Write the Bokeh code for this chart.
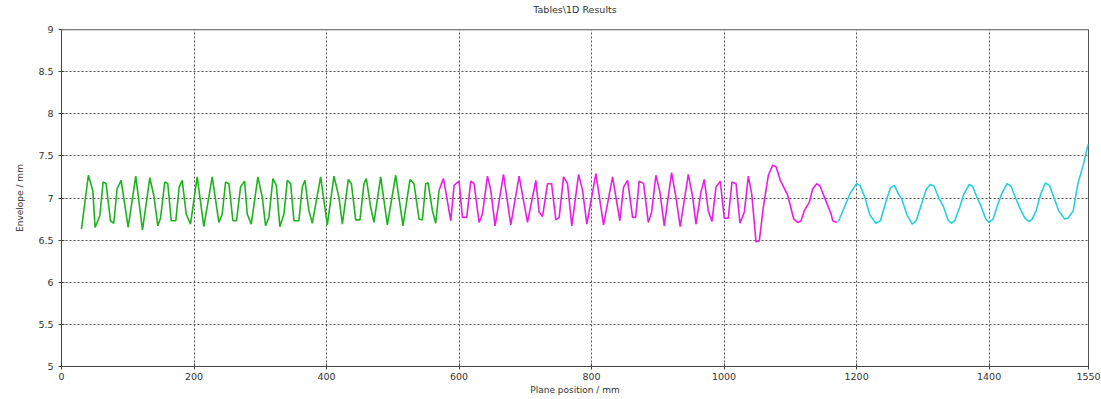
from bokeh.plotting import figure
from bokeh.models import Range1d, FixedTicker, Span
from bokeh.embed import file_html
from bokeh.resources import INLINE

# ---- data ----
green_x = [30.1, 40.6, 47.2, 50.7, 57.8, 62.8, 67.3, 73.9, 78.9, 83.9,
           90.0, 100.6, 112.1, 122.2, 133.3, 139.3, 145.4, 149.4, 155.9, 160.4,
           165.6, 172.5, 177.6, 182.2, 188.2, 194.7, 204.8, 214.8, 227.5, 237.5,
           242.6, 247.6, 252.6, 258.7, 264.2, 270.2, 276.3, 280.3, 286.4, 296.4,
           303.0, 308.0, 313.0, 319.1, 324.2, 329.6, 335.7, 340.8, 345.8, 350.8,
           358.3, 363.4, 367.4, 373.4, 378.5, 391.1, 401.2, 411.2, 418.7, 423.9,
           432.9, 437.5, 444.0, 450.5, 456.5, 460.1, 466.6, 471.6, 481.7, 491.8,
           504.4, 515.4, 526.0, 532.0, 539.6, 544.7, 549.7, 553.2, 559.8, 564.8,
           569.8]
green_y = [6.63, 7.27, 7.09, 6.65, 6.79, 7.19, 7.17, 6.73, 6.70, 7.11,
           7.21, 6.65, 7.26, 6.62, 7.24, 7.03, 6.67, 6.76, 7.19, 7.17,
           6.73, 6.73, 7.13, 7.21, 6.81, 6.69, 7.25, 6.66, 7.25, 6.71,
           6.81, 7.19, 7.17, 6.73, 6.73, 7.13, 7.20, 6.81, 6.69, 7.25,
           7.01, 6.67, 6.77, 7.23, 7.15, 6.66, 6.81, 7.21, 7.17, 6.73,
           6.73, 7.13, 7.21, 6.85, 6.70, 7.25, 6.68, 7.26, 7.01, 6.69,
           7.22, 7.17, 6.74, 6.74, 7.17, 7.23, 6.89, 6.71, 7.25, 6.68,
           7.27, 6.67, 7.22, 7.17, 6.75, 6.74, 7.17, 7.18, 6.85, 6.70,
           7.09]

magenta_x = [569.8, 576.4, 581.4, 587.5, 592.5, 600.0, 605.1, 611.6, 617.7, 622.7,
             630.2, 635.3, 642.9, 647.9, 654.4, 667.1, 678.1, 690.6, 703.3, 715.9,
             720.9, 726.0, 733.5, 739.6, 746.1, 751.1, 757.7, 763.7, 770.2, 780.4,
             786.4, 792.9, 806.5, 818.1, 831.7, 842.7, 848.3, 854.4, 861.9, 866.5,
             871.9, 878.5, 885.6, 890.6, 897.1, 903.2, 909.7, 920.8, 927.3, 933.8,
             946.0, 952.6, 957.6, 965.1, 970.1, 976.1, 981.7, 987.8, 994.3, 1000.3,
             1006.3, 1011.9, 1018.0, 1024.0, 1030.5, 1036.6, 1041.7, 1048.2, 1053.2, 1059.2,
             1066.8, 1073.4, 1078.4, 1084.9, 1096.1, 1105.1, 1111.2, 1116.2, 1121.1, 1128.7,
             1133.8, 1139.9, 1144.9, 1151.4, 1161.5, 1164.0, 1170.1]
magenta_y = [7.09, 7.23, 7.01, 6.73, 7.15, 7.20, 6.77, 6.77, 7.20, 7.17,
             6.71, 6.81, 7.26, 7.09, 6.67, 7.28, 6.68, 7.26, 6.71, 7.21,
             6.83, 6.78, 7.17, 7.17, 6.74, 6.77, 7.25, 7.17, 6.67, 7.28,
             7.09, 6.69, 7.29, 6.68, 7.25, 6.73, 7.13, 7.21, 6.77, 6.77,
             7.20, 7.17, 6.71, 6.83, 7.27, 7.07, 6.67, 7.30, 7.01, 6.66,
             7.28, 7.01, 6.69, 7.07, 7.22, 6.85, 6.72, 7.13, 7.20, 6.76,
             6.76, 7.19, 7.17, 6.70, 6.83, 7.26, 7.05, 6.48, 6.49, 6.89,
             7.27, 7.39, 7.37, 7.21, 7.03, 6.75, 6.71, 6.73, 6.85, 6.95,
             7.11, 7.17, 7.14, 7.01, 6.81, 6.73, 6.71]

cyan_x = [1172.5, 1180, 1190, 1200, 1205, 1212, 1220, 1229, 1236, 1244,
          1251, 1257, 1263, 1268, 1276, 1284, 1290, 1298, 1305, 1311,
          1317, 1324, 1331, 1338, 1343, 1348, 1356, 1362, 1370, 1375,
          1381, 1388, 1395, 1400, 1406, 1412, 1419, 1427, 1433, 1440,
          1447, 1454, 1460, 1465, 1471, 1478, 1485, 1491, 1498, 1505,
          1514, 1519, 1527, 1534, 1542, 1548, 1550]
cyan_y = [6.72, 6.86, 7.05, 7.17, 7.15, 7.02, 6.80, 6.70, 6.73, 6.95,
          7.12, 7.15, 7.05, 6.99, 6.80, 6.69, 6.73, 6.93, 7.10, 7.16,
          7.14, 7.00, 6.90, 6.74, 6.70, 6.73, 6.90, 7.05, 7.16, 7.14,
          7.02, 6.90, 6.75, 6.71, 6.75, 6.90, 7.05, 7.17, 7.14, 7.00,
          6.87, 6.76, 6.72, 6.75, 6.85, 7.05, 7.18, 7.15, 7.00, 6.85,
          6.75, 6.76, 6.85, 7.17, 7.39, 7.59, 7.64]

x_ticks = [0, 200, 400, 600, 800, 1000, 1200, 1400, 1550]
y_ticks = [5, 5.5, 6, 6.5, 7, 7.5, 8, 8.5, 9]
y_tick_labels = ["5", "5.5", "6", "6.5", "7", "7.5", "8", "8.5", "9"]

title_text = "Tables\\1D Results"
x_label = "Plane position / mm"
y_label = "Envelope / mm"

FONT = "DejaVu Sans"
TXT = "#333333"

p = figure(width=1101, height=399, output_backend="svg", toolbar_location=None,
           x_range=Range1d(0, 1550), y_range=Range1d(5, 9),
           min_border_left=61, min_border_right=13, min_border_top=29, min_border_bottom=33)

p.title.text = title_text
p.title.align = "center"
p.title.vertical_align = "top"
p.title.text_font = FONT
p.title.text_font_size = "9.5px"
p.title.text_font_style = "normal"
p.title.text_color = TXT
p.title.standoff = 6
p.title.padding = dict(left=0, right=0, top=0, bottom=10)

p.line(green_x, green_y, line_color="#1cb41c", line_width=1.6)
p.line(magenta_x, magenta_y, line_color="#e81ee8", line_width=1.6)
p.line(cyan_x, cyan_y, line_color="#28cfe0", line_width=1.6)

p.xaxis.ticker = FixedTicker(ticks=x_ticks)
p.yaxis.ticker = FixedTicker(ticks=y_ticks)
p.yaxis.major_label_overrides = {t: l for t, l in zip(y_ticks, y_tick_labels)}
p.xaxis.axis_label = x_label
p.yaxis.axis_label = y_label

for ax in (p.xaxis[0], p.yaxis[0]):
    ax.axis_label_text_font = FONT
    ax.axis_label_text_font_size = "9px"
    ax.axis_label_text_font_style = "normal"
    ax.axis_label_text_color = TXT
    ax.major_label_text_font = FONT
    ax.major_label_text_font_size = "9.5px"
    ax.major_label_text_color = TXT
    ax.axis_line_color = "#444444"
    ax.major_tick_line_color = "#444444"
    ax.major_tick_out = 3
    ax.major_tick_in = 3
    ax.minor_tick_line_color = None

p.xaxis.major_label_standoff = 3
p.xaxis.axis_label_standoff = 2
p.yaxis.major_label_standoff = 5
p.yaxis.axis_label_standoff = 10
p.yaxis.major_label_orientation = "horizontal"

p.xgrid.ticker = FixedTicker(ticks=x_ticks[1:-1])
p.ygrid.ticker = FixedTicker(ticks=y_ticks[1:-1])
for g in (p.xgrid[0], p.ygrid[0]):
    g.grid_line_color = "#555555"
    g.grid_line_dash = "2 2"
    g.grid_line_width = 1

p.outline_line_color = "#555555"
p.add_layout(Span(location=9, dimension="width", line_color="#aaaaaa", line_width=2))
p.background_fill_color = "white"
p.border_fill_color = "white"

open("out.html", "w").write(file_html(p, INLINE))
